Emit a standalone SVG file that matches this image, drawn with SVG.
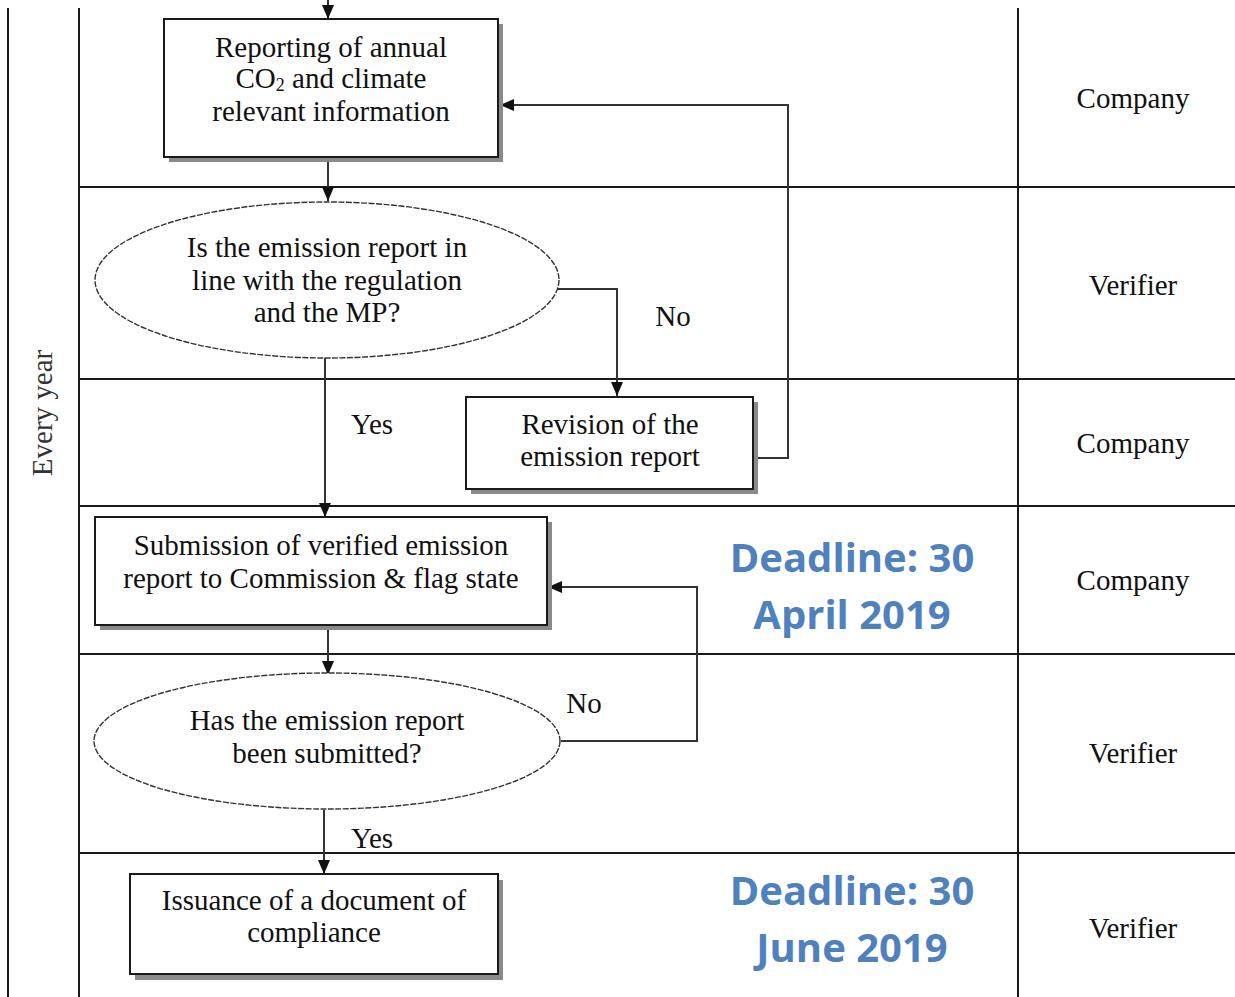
<svg xmlns="http://www.w3.org/2000/svg" width="1235" height="997" viewBox="0 0 1235 997">
<defs>
<style>
.lane{stroke:#1a1a1a;stroke-width:2;fill:none}
.box{fill:#fff;stroke:#1a1a1a;stroke-width:2}
.shadow{fill:#8a8a8a}
.ell{fill:#fff;stroke:#333;stroke-width:1.4;stroke-dasharray:6 1.5}
.t{font-family:"Liberation Serif","Times New Roman",serif;font-size:29px;fill:#111;text-anchor:middle}
.dl{font-family:"Open Sans","Liberation Sans",sans-serif;font-weight:bold;font-size:40px;fill:#4f81bd;text-anchor:middle}
.con{stroke:#333;stroke-width:2;fill:none}
</style>
<marker id="arr" markerUnits="userSpaceOnUse" markerWidth="14" markerHeight="14" viewBox="0 0 14 14" refX="14" refY="7" orient="auto">
<path d="M0,1 L14,7 L0,13 Z" fill="#111"/>
</marker>
</defs>
<rect width="1235" height="997" fill="#fff"/>
<g id="lanes">
<line class="lane" x1="8" y1="8" x2="8" y2="997"/>
<line class="lane" x1="79" y1="8" x2="79" y2="997"/>
<line class="lane" x1="1018" y1="8" x2="1018" y2="997"/>
<line class="lane" x1="79" y1="187" x2="1235" y2="187"/>
<line class="lane" x1="79" y1="379" x2="1235" y2="379"/>
<line class="lane" x1="79" y1="506" x2="1235" y2="506"/>
<line class="lane" x1="79" y1="654" x2="1235" y2="654"/>
<line class="lane" x1="79" y1="853" x2="1235" y2="853"/>
<text class="t" transform="translate(52,413) rotate(-90)" style="fill:#333">Every year</text>
<text class="t" x="1133" y="108">Company</text>
<text class="t" x="1133" y="295">Verifier</text>
<text class="t" x="1133" y="453">Company</text>
<text class="t" x="1133" y="590">Company</text>
<text class="t" x="1133" y="763">Verifier</text>
<text class="t" x="1133" y="938">Verifier</text>
</g>
<g id="connectors">
<line class="con" x1="328" y1="0" x2="328" y2="19" marker-end="url(#arr)"/>
<line class="con" x1="328" y1="157" x2="328" y2="201" marker-end="url(#arr)"/>
<polyline class="con" points="557,289 617,289 617,396" marker-end="url(#arr)"/>
<polyline class="con" points="753,458 788,458 788,105 500,105" marker-end="url(#arr)"/>
<line class="con" x1="325" y1="358" x2="325" y2="517" marker-end="url(#arr)"/>
<line class="con" x1="328" y1="625" x2="328" y2="675" marker-end="url(#arr)"/>
<polyline class="con" points="561,741 697,741 697,587 548,587" marker-end="url(#arr)"/>
<line class="con" x1="324" y1="810" x2="324" y2="874" marker-end="url(#arr)"/>
<text class="t" x="673" y="326">No</text>
<text class="t" x="372" y="434">Yes</text>
<text class="t" x="584" y="713">No</text>
<text class="t" x="372" y="848">Yes</text>
</g>
<g id="n-reporting">
<rect class="shadow" x="169" y="24" width="334" height="138"/>
<rect class="box" x="164" y="19" width="334" height="138"/>
<text class="t" x="331" y="57">Reporting of annual</text>
<text class="t" x="331" y="88">CO<tspan font-size="18" dy="3">2</tspan><tspan dy="-3"> and climate</tspan></text>
<text class="t" x="331" y="121">relevant information</text>
</g>
<g id="n-check1">
<ellipse class="ell" cx="327" cy="280" rx="232" ry="78"/>
<text class="t" x="327" y="257">Is the emission report in</text>
<text class="t" x="327" y="290">line with the regulation</text>
<text class="t" x="327" y="322">and the MP?</text>
</g>
<g id="n-revision">
<rect class="shadow" x="471" y="402" width="287" height="92"/>
<rect class="box" x="466" y="397" width="287" height="92"/>
<text class="t" x="610" y="434">Revision of the</text>
<text class="t" x="610" y="466">emission report</text>
</g>
<g id="n-submission">
<rect class="shadow" x="100" y="522" width="452" height="108"/>
<rect class="box" x="95" y="517" width="452" height="108"/>
<text class="t" x="321" y="555">Submission of verified emission</text>
<text class="t" x="321" y="588">report to Commission &amp; flag state</text>
</g>
<g id="n-check2">
<ellipse class="ell" cx="327" cy="741" rx="233" ry="68"/>
<text class="t" x="327" y="730">Has the emission report</text>
<text class="t" x="327" y="763">been submitted?</text>
</g>
<g id="n-issuance">
<rect class="shadow" x="135" y="880" width="368" height="100"/>
<rect class="box" x="130" y="874" width="368" height="100"/>
<text class="t" x="314" y="910">Issuance of a document of</text>
<text class="t" x="314" y="942">compliance</text>
</g>
<g id="deadlines">
<text class="dl" x="852" y="572">Deadline: 30</text>
<text class="dl" x="852" y="629">April 2019</text>
<text class="dl" x="852" y="905">Deadline: 30</text>
<text class="dl" x="852" y="962">June 2019</text>
</g>
</svg>
